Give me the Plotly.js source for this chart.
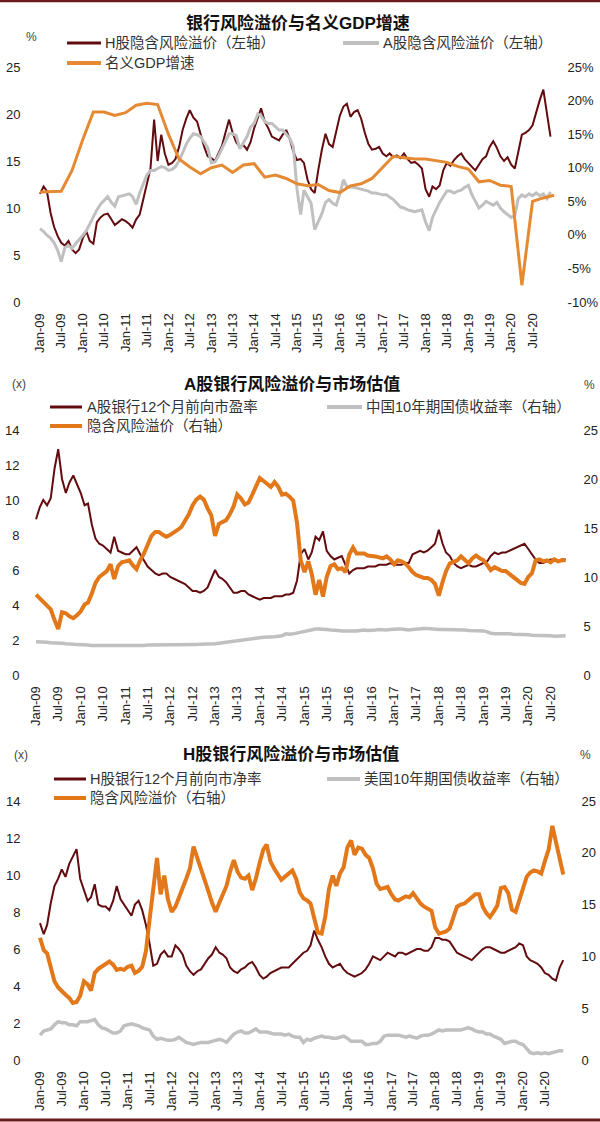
<!DOCTYPE html>
<html><head><meta charset="utf-8">
<script src="https://cdn.plot.ly/plotly-3.0.1.min.js"></script>
<style>html,body{margin:0;padding:0;background:#fff;}#chart{width:600px;height:1122px;}</style>
</head><body><div id="chart"></div>
<script>
// ---------- Panel 1: 银行风险溢价与名义GDP增速 (monthly from Jan-09) ----------
const hPremium = [
 11.5,12.3,11.8,9.5,8.0,7.0,6.3,6.0,6.5,5.6,5.2,5.6,
 6.8,7.5,6.5,6.2,8.5,9.0,9.3,9.4,8.8,8.2,8.5,8.8,
 8.6,8.3,7.9,8.8,9.3,11.0,12.8,14.2,19.4,15.0,17.8,15.8,
 14.6,14.8,15.2,16.5,18.3,19.5,20.4,19.6,19.2,17.9,16.5,15.5,
 15.3,15.0,15.8,16.6,18.0,19.4,18.0,17.0,16.5,16.7,16.2,17.0,
 18.5,19.5,20.6,19.2,18.5,17.6,17.4,17.2,17.8,18.3,17.3,16.0,
 15.1,15.2,14.8,13.0,12.0,11.6,14.0,16.2,17.9,16.8,16.5,18.3,
 19.8,20.8,21.1,19.7,20.2,20.4,19.5,18.0,16.8,16.2,16.3,16.5,
 15.8,15.5,15.8,15.4,15.6,15.3,15.8,15.2,14.8,14.9,14.6,14.2,
 12.0,11.2,12.3,12.0,12.4,14.0,14.8,14.5,15.1,15.5,15.8,15.2,
 14.8,14.3,14.0,14.6,15.2,15.5,16.5,17.1,16.4,15.5,15.0,15.4,
 14.6,14.2,16.0,17.8,18.0,18.3,18.8,20.3,21.5,22.6,20.1,17.6];
const aPremium = [
 7.8,7.5,7.1,6.8,6.3,5.5,4.3,5.8,6.0,5.7,6.2,6.6,
 7.1,7.6,8.3,9.0,9.8,10.4,10.8,11.2,10.6,10.2,11.2,11.3,
 11.4,11.5,11.2,10.4,11.6,12.6,13.5,14.0,14.0,14.2,14.4,14.3,
 14.0,14.1,14.4,15.0,15.8,16.8,17.4,17.9,17.8,17.6,17.0,16.4,
 14.8,14.9,15.5,16.3,17.2,17.9,17.9,17.7,16.3,16.9,17.6,18.6,
 19.0,20.0,19.8,19.2,19.0,19.0,18.6,18.3,18.3,17.8,17.4,16.5,
 12.0,9.3,11.9,11.2,10.5,7.7,8.5,9.4,10.6,10.9,10.5,10.3,
 11.5,13.0,12.3,12.2,12.2,12.1,12.0,11.9,11.8,11.6,11.6,11.5,
 11.4,11.4,11.2,10.9,10.5,10.1,10.0,9.8,9.7,9.6,9.7,9.8,
 8.5,7.6,9.0,9.8,10.6,11.2,11.8,11.8,11.6,11.8,11.9,12.2,
 12.4,11.4,10.8,10.0,10.3,10.7,10.5,10.3,10.6,10.0,9.6,9.3,
 9.0,9.2,11.0,11.4,11.2,11.5,11.3,11.6,11.3,11.5,11.0,11.7];
// quarterly, every 3 months from Jan-09
const gdpGrowth = [
 6.4,6.4,6.5,9.6,14.2,18.3,18.3,17.8,18.2,19.3,19.6,19.4,
 15.0,11.3,10.1,9.1,10.0,10.4,9.3,10.4,10.6,8.6,8.9,8.4,
 7.6,7.3,7.5,6.6,6.3,7.3,7.6,8.4,10.1,11.7,11.5,11.3,
 11.3,11.1,10.8,10.2,9.8,7.9,8.1,7.4,7.2,-7.5,5.0,5.5,5.9];

// ---------- Panel 2: A股银行风险溢价与市场估值 ----------
const aPE = [
 8.9,9.6,10.0,9.7,10.1,11.8,12.9,11.2,10.4,11.0,11.4,10.9,
 10.4,9.7,9.8,8.6,7.8,7.5,7.4,7.2,7.0,7.9,7.1,7.0,
 6.9,6.9,7.1,7.3,6.9,6.5,6.2,6.0,5.8,5.7,5.8,5.8,
 5.6,5.5,5.4,5.3,5.2,5.0,4.8,4.8,4.7,4.8,5.0,5.5,
 6.0,5.6,5.5,5.3,5.0,4.7,4.7,4.8,4.8,4.6,4.5,4.4,
 4.3,4.4,4.4,4.4,4.5,4.5,4.5,4.6,4.6,4.7,5.4,6.9,
 7.2,6.6,7.0,7.9,7.7,8.2,7.1,6.8,6.6,6.7,6.8,6.3,
 5.8,6.0,6.1,6.1,6.1,6.2,6.2,6.2,6.3,6.3,6.3,6.4,
 6.3,6.3,6.3,6.4,6.4,6.9,7.0,7.1,7.0,7.1,7.3,7.5,
 8.3,7.5,7.0,6.8,6.4,6.2,6.1,6.2,6.3,6.2,6.2,6.3,
 6.4,6.5,6.8,7.0,6.9,7.0,7.0,7.1,7.2,7.3,7.4,7.5,
 7.2,6.9,6.6,6.4,6.4,6.5,6.6,6.6,6.5,6.6,6.6];
const cnYield = [
 3.4,3.4,3.35,3.35,3.3,3.3,3.3,3.25,3.2,3.2,3.15,3.1,
 3.1,3.05,3.05,3.0,3.0,3.0,2.95,2.95,2.95,2.95,3.0,3.0,
 3.0,3.0,3.0,3.0,3.0,3.0,3.05,3.05,3.05,3.05,3.05,3.05,
 3.05,3.05,3.1,3.1,3.1,3.1,3.1,3.1,3.15,3.15,3.2,3.2,
 3.2,3.25,3.3,3.35,3.45,3.5,3.55,3.6,3.6,3.65,3.7,3.75,
 3.8,3.85,3.85,3.9,3.9,3.95,4.0,4.2,4.15,4.2,4.3,4.35,
 4.5,4.6,4.65,4.7,4.7,4.7,4.65,4.6,4.6,4.55,4.5,4.5,
 4.45,4.45,4.5,4.55,4.6,4.55,4.55,4.6,4.65,4.6,4.6,4.65,
 4.7,4.7,4.7,4.65,4.6,4.65,4.7,4.7,4.75,4.75,4.7,4.7,
 4.65,4.65,4.65,4.6,4.6,4.6,4.6,4.6,4.55,4.55,4.55,4.5,
 4.5,4.4,4.25,4.2,4.2,4.25,4.2,4.2,4.15,4.15,4.1,4.1,
 4.1,4.05,4.05,4.05,4.0,4.0,4.0,3.95,3.95,3.95,4.0];
const aImplied = [
 8.2,7.8,7.4,7.0,6.7,5.6,4.7,6.4,6.3,6.0,5.8,6.1,
 6.5,7.2,7.4,8.3,9.4,10.0,10.3,10.6,11.3,9.8,11.1,11.5,
 11.6,11.7,11.2,10.8,11.7,12.4,13.3,14.2,14.6,14.6,14.3,14.1,
 14.3,14.5,14.8,15.1,15.7,16.4,17.3,17.9,18.2,17.9,17.0,16.3,
 14.2,15.4,15.6,15.8,16.4,17.2,18.4,18.0,17.4,17.6,18.4,19.3,
 20.1,19.8,19.5,19.2,19.7,19.2,18.4,18.5,18.2,17.8,15.5,11.7,
 10.5,11.6,10.3,8.2,9.7,8.0,10.0,11.1,11.3,10.8,10.9,10.5,
 12.3,13.0,12.4,12.4,12.4,12.2,12.2,12.1,12.0,11.9,12.1,11.8,
 11.3,11.7,11.6,11.4,11.0,10.5,10.2,10.0,9.9,9.9,9.7,9.3,
 8.1,9.5,10.6,11.4,11.6,11.7,12.1,11.8,11.4,11.9,12.2,11.9,
 11.7,11.2,10.7,11.0,10.8,10.6,10.6,10.3,10.0,9.8,9.4,9.3,
 10.0,10.4,11.7,11.8,11.6,11.7,11.5,11.8,11.6,11.7,11.7];

// ---------- Panel 3: H股银行风险溢价与市场估值 ----------
const hPE = [
 7.4,6.8,7.3,8.5,9.4,9.8,10.3,9.9,10.6,11.0,11.4,9.8,
 9.2,8.6,8.8,9.5,8.4,8.3,8.3,8.1,8.6,9.4,8.7,8.4,
 8.1,7.8,8.4,8.6,8.1,7.3,6.3,5.1,5.2,5.7,5.9,5.6,
 5.6,6.2,6.0,5.7,5.1,4.8,4.6,4.8,4.9,5.2,5.5,5.7,
 6.1,5.8,5.7,5.5,5.0,4.8,4.7,4.9,5.0,5.2,5.3,5.0,
 4.6,4.4,4.5,4.7,4.8,4.9,5.0,5.0,5.0,5.2,5.4,5.6,
 5.8,5.9,6.2,7.0,6.5,6.1,5.6,5.2,5.0,5.1,5.2,4.9,
 4.7,4.6,4.5,4.6,4.7,4.9,5.2,5.6,5.5,5.4,5.6,5.8,
 5.7,5.6,5.8,5.8,5.7,5.8,5.9,6.0,6.0,5.9,5.9,6.1,
 6.6,6.6,6.5,6.5,6.4,6.1,5.8,5.7,5.6,5.5,5.4,5.6,
 5.8,6.0,6.1,6.1,6.0,5.9,5.8,5.8,5.9,6.0,6.1,6.3,
 6.2,5.6,5.4,5.3,5.2,5.0,4.7,4.6,4.4,4.3,5.0,5.4];
const usYield = [
 2.4,2.8,2.9,3.0,3.4,3.7,3.6,3.6,3.4,3.4,3.3,3.7,
 3.7,3.7,3.8,3.9,3.4,3.1,3.0,2.8,2.6,2.6,2.8,3.3,
 3.4,3.5,3.4,3.3,3.1,3.0,2.9,2.3,2.0,2.1,2.0,1.9,
 1.9,2.0,2.2,1.9,1.7,1.6,1.5,1.6,1.7,1.7,1.7,1.8,
 1.9,2.0,1.9,1.7,2.1,2.5,2.7,2.8,2.6,2.6,2.8,3.0,
 2.7,2.7,2.7,2.6,2.5,2.5,2.5,2.4,2.5,2.3,2.2,2.2,
 1.7,2.0,1.9,2.1,2.2,2.3,2.2,2.2,2.1,2.1,2.2,2.3,
 2.1,1.8,1.8,1.8,1.8,1.5,1.5,1.6,1.6,1.8,2.3,2.4,
 2.4,2.4,2.4,2.3,2.2,2.3,2.2,2.1,2.3,2.4,2.4,2.5,
 2.7,2.9,2.8,2.9,2.9,2.9,2.9,2.9,3.0,3.1,3.0,2.8,
 2.7,2.7,2.5,2.5,2.3,2.1,2.0,1.6,1.7,1.8,1.8,1.6,
 1.5,1.1,0.7,0.6,0.7,0.6,0.7,0.6,0.7,0.8,0.9,0.9];
const hImplied = [
 11.8,10.6,10.3,8.8,7.6,7.0,6.6,6.3,6.0,5.5,5.6,6.2,
 7.6,7.3,6.7,8.4,8.8,9.0,9.3,9.5,9.2,8.7,8.8,8.7,
 9.0,9.1,8.4,8.6,9.0,10.5,13.5,16.5,19.5,16.0,17.8,15.5,
 14.3,14.8,15.6,16.7,17.5,18.5,20.6,19.5,18.5,17.5,16.3,15.2,
 14.3,15.2,16.0,16.8,18.2,19.3,18.2,17.6,17.5,17.8,16.4,17.5,
 19.0,20.3,20.8,19.2,18.5,18.0,17.4,17.7,18.0,18.3,17.5,16.2,
 15.6,15.4,15.1,13.5,12.3,12.2,13.8,16.5,17.8,16.8,18.0,18.6,
 20.5,21.2,19.8,20.5,20.4,19.8,19.5,18.5,17.0,16.5,16.6,16.7,
 16.0,15.5,15.4,15.6,15.8,15.7,16.1,15.6,15.1,14.8,14.6,14.4,
 12.8,12.2,12.3,12.4,12.7,13.8,14.8,15.0,15.1,15.4,15.7,16.0,
 16.0,14.8,14.2,13.8,14.3,14.9,16.6,16.7,16.1,14.5,14.3,15.5,
 16.6,17.7,18.1,18.3,18.2,18.0,19.2,20.3,22.6,21.0,19.2,17.9];

// axis ticks
const pct1Ticks = [-10,-5,0,5,10,15,20,25];
const pct1Text = ['-10%','-5%','0%','5%','10%','15%','20%','25%'];

// ---------- helpers ----------
function monthDate(m){const y=2009+Math.floor(m/12);const mo=(m%12)+1;return y+'-'+String(mo).padStart(2,'0')+'-01';}
const months = []; for(let m=0;m<144;m++) months.push(monthDate(m));
const quarters = []; for(let i=0;i<gdpGrowth.length;i++) quarters.push(monthDate(3*i));
const xTickVals=[], xTickText=[];
const mn=['Jan','Jul'];
for(let y=2009;y<=2020;y++){for(let k=0;k<2;k++){xTickVals.push(y+'-'+(k?'07':'01')+'-01');xTickText.push(mn[k]+'-'+String(y%100).padStart(2,'0'));}}

const W=600,H=1122;
const px=x=>x/W, py=y=>1-y/H;
const DARK='#620c0f', GRAY='#c0c0c0', ORANGE='#e2781a', ORANGE1='#e58a32';
const TF={family:'"Liberation Sans", Arial, sans-serif',size:13,color:'#222'};
const CJK='"Liberation Sans", Arial, "Noto Sans CJK SC", sans-serif';
const transp='rgba(0,0,0,0)';

function xax(dom,anchor,range){return {domain:dom,anchor:anchor,type:'date',range:range,tickmode:'array',tickvals:xTickVals,ticktext:xTickText,tickangle:-90,ticks:'outside',ticklen:5,tickcolor:transp,showgrid:false,zeroline:false,showline:false,tickfont:TF};}
function yl(dom,anchor,range,dtick,tl){return {domain:dom,anchor:anchor,range:range,dtick:dtick,tick0:0,ticks:'outside',ticklen:tl,tickcolor:transp,showgrid:false,zeroline:false,showline:false,tickfont:TF};}

const traces=[
 {x:months,y:hPremium,xaxis:'x',yaxis:'y',mode:'lines',line:{color:DARK,width:2},name:'H股隐含风险溢价（左轴）'},
 {x:months,y:aPremium,xaxis:'x',yaxis:'y',mode:'lines',line:{color:GRAY,width:3},name:'A股隐含风险溢价（左轴）'},
 {x:quarters,y:gdpGrowth,xaxis:'x',yaxis:'y2',mode:'lines',line:{color:ORANGE1,width:3},name:'名义GDP增速'},
 {x:months,y:aPE,xaxis:'x2',yaxis:'y3',mode:'lines',line:{color:DARK,width:2},name:'A股银行12个月前向市盈率'},
 {x:months,y:cnYield,xaxis:'x2',yaxis:'y4',mode:'lines',line:{color:GRAY,width:3.5},name:'中国10年期国债收益率（右轴）'},
 {x:months,y:aImplied,xaxis:'x2',yaxis:'y4',mode:'lines',line:{color:ORANGE,width:4},name:'隐含风险溢价（右轴）'},
 {x:months,y:hPE,xaxis:'x3',yaxis:'y5',mode:'lines',line:{color:DARK,width:2},name:'H股银行12个月前向市净率'},
 {x:months,y:usYield,xaxis:'x3',yaxis:'y6',mode:'lines',line:{color:GRAY,width:3.5},name:'美国10年期国债收益率（右轴）'},
 {x:months,y:hImplied,xaxis:'x3',yaxis:'y6',mode:'lines',line:{color:ORANGE,width:4},name:'隐含风险溢价（右轴）'}
];

const y2 = yl(null,'x',[-10,25],5,8); delete y2.domain; y2.overlaying='y'; y2.side='right'; y2.tickmode='array'; y2.tickvals=pct1Ticks; y2.ticktext=pct1Text;
const y4 = yl(null,'x2',[0,25],5,8); delete y4.domain; y4.overlaying='y3'; y4.side='right';
const y6 = yl(null,'x3',[0,25],5,8); delete y6.domain; y6.overlaying='y5'; y6.side='right';

function ann(text,x,y,opt){return Object.assign({text:text,x:px(x),y:py(y),xref:'paper',yref:'paper',showarrow:false,xanchor:'left',yanchor:'middle',font:{family:CJK,size:14.5,color:'#333'}},opt||{});}
function title(text,x,y){return ann('<b>'+text+'</b>',x,y,{xanchor:'center',font:{family:CJK,size:17,color:'#111'}});}
function seg(x0,x1,y,color,w){return {type:'line',xref:'paper',yref:'paper',x0:px(x0),x1:px(x1),y0:py(y),y1:py(y),line:{color:color,width:w}};}

const annotations=[
 title('银行风险溢价与名义GDP增速',298,23),
 ann('%',31,37,{xanchor:'center',font:{family:TF.family,size:12,color:'#444'}}),
 ann('H股隐含风险溢价（左轴）',103,43),
 ann('A股隐含风险溢价（左轴）',381,43),
 ann('名义GDP增速',103,63),
 title('A股银行风险溢价与市场估值',292,384),
 ann('(x)',19,384,{xanchor:'center',font:{family:TF.family,size:12,color:'#444'}}),
 ann('%',589,385,{xanchor:'center',font:{family:TF.family,size:12,color:'#444'}}),
 ann('A股银行12个月前向市盈率',85,407),
 ann('中国10年期国债收益率（右轴）',364,407),
 ann('隐含风险溢价（右轴）',85,426),
 title('H股银行风险溢价与市场估值',291,754),
 ann('(x)',21,755,{xanchor:'center',font:{family:TF.family,size:12,color:'#444'}}),
 ann('%',585,755,{xanchor:'center',font:{family:TF.family,size:12,color:'#444'}}),
 ann('H股银行12个月前向市净率',88,779),
 ann('美国10年期国债收益率（右轴）',362,779),
 ann('隐含风险溢价（右轴）',88,798)
];
const shapes=[
 {type:'line',xref:'paper',yref:'paper',x0:0,x1:1,y0:py(1),y1:py(1),line:{color:'#6b1a1a',width:2.5}},
 {type:'line',xref:'paper',yref:'paper',x0:0,x1:1,y0:py(1120),y1:py(1120),line:{color:'#6b1a1a',width:3}},
 seg(67,101,43,DARK,3), seg(343,379,43,GRAY,4), seg(67,101,63,ORANGE1,4),
 seg(50,82,407,DARK,3), seg(327,362,407,GRAY,4), seg(50,82,426,ORANGE,4),
 seg(54,86,779,DARK,3), seg(327,360,779,GRAY,4), seg(54,86,798,ORANGE,4)
];

const layout={
 width:W,height:H,margin:{l:0,r:0,t:0,b:0},paper_bgcolor:'#fff',plot_bgcolor:'#fff',showlegend:false,
 xaxis:xax([px(36),px(556)],'y',['2008-11-28','2021-01-17']),
 yaxis:yl([py(302),py(67)],'x',[0,25],5,12),
 yaxis2:y2,
 xaxis2:xax([px(32),px(572)],'y3',['2008-11-29','2020-12-23']),
 yaxis3:yl([py(675),py(430)],'x2',[0,14],2,9),
 yaxis4:y4,
 xaxis3:xax([px(34),px(570)],'y5',['2008-11-12','2021-01-26']),
 yaxis5:yl([py(1060),py(801)],'x3',[0,14],2,10),
 yaxis6:y6,
 annotations:annotations,shapes:shapes
};
Plotly.newPlot('chart',traces,layout,{staticPlot:true,displayModeBar:false});
</script></body></html>
